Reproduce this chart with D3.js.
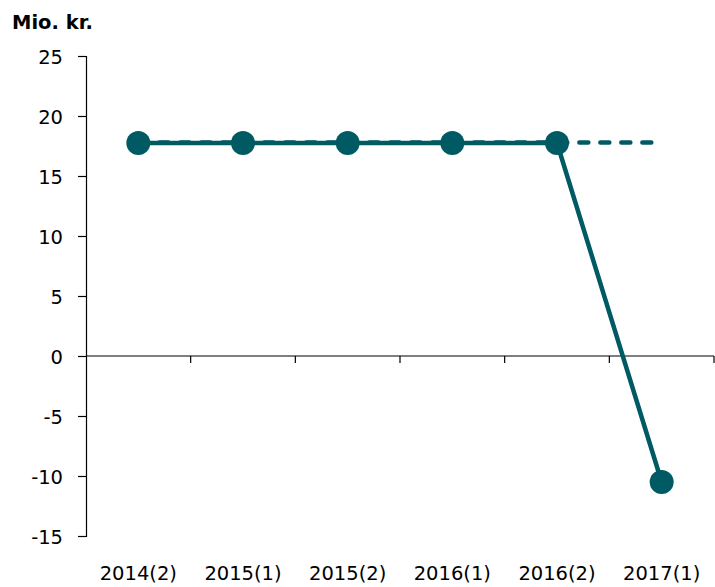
<!DOCTYPE html>
<html>
<head>
<meta charset="utf-8">
<script src="https://cdn.jsdelivr.net/npm/d3@7"></script>
<style>
  html, body { margin: 0; padding: 0; background: #fff; }
  svg { display: block; }
  text { font-family: "DejaVu Sans", Verdana, sans-serif; fill: #000; }
</style>
</head>
<body>
<svg id="chart" width="715" height="587"></svg>
<script>
// Periods on the x axis
const periods = ["2014(2)", "2015(1)", "2015(2)", "2016(1)", "2016(2)", "2017(1)"];
// Realised amounts (solid line with markers), Mio. kr.
const actual = [17.75, 17.75, 17.75, 17.75, 17.75, -10.5];
// Unchanged level (dashed line)
const baseline = [17.8, 17.8, 17.8, 17.8, 17.8, 17.8];
// Y axis ticks
const yTicks = [25, 20, 15, 10, 5, 0, -5, -10, -15];

const color = "#005a64";
const fontSize = "19.5px";
const svg = d3.select("#chart");

const x = d3.scaleBand().domain(periods).range([86, 714]);
const y = d3.scaleLinear().domain([-15, 25]).range([536, 56]);
const cx = d => x(d) + x.bandwidth() / 2;

// Y axis
const yAxis = svg.append("g")
  .attr("transform", "translate(86,0)")
  .call(d3.axisLeft(y).tickValues(yTicks).tickSize(8).tickPadding(15).tickFormat(d => String(d)));
yAxis.select(".domain").attr("stroke", "#000").attr("stroke-width", 1.2);
yAxis.selectAll(".tick line").attr("stroke", "#000").attr("stroke-width", 1.2);
yAxis.selectAll(".tick text").style("font-size", fontSize).attr("dy", "0.36em");

// X axis on the zero line, with tick marks at the band edges
const xg = svg.append("g").attr("transform", `translate(0,${y(0)})`);
xg.append("line").attr("x1", 86).attr("x2", 714)
  .attr("stroke", "#000").attr("stroke-width", 1.2);
const edges = periods.map(p => x(p)).concat([x.range()[1]]);
xg.selectAll("line.edge").data(edges.slice(1)).join("line")
  .attr("class", "edge")
  .attr("x1", d => d).attr("x2", d => d).attr("y1", 0).attr("y2", 7)
  .attr("stroke", "#000").attr("stroke-width", 1.2);

// Category labels below the plot
svg.append("g").selectAll("text").data(periods).join("text")
  .attr("x", d => cx(d)).attr("y", 580)
  .attr("text-anchor", "middle")
  .style("font-size", fontSize)
  .text(d => d);

// Unit label
svg.append("text").attr("x", 12).attr("y", 29)
  .style("font-size", fontSize).style("font-weight", "bold")
  .text("Mio. kr.");

const line = d3.line().x(d => cx(d.p)).y(d => y(d.v));

// Dashed level line
svg.append("path")
  .datum(periods.map((p, i) => ({ p, v: baseline[i] })))
  .attr("d", line)
  .attr("fill", "none").attr("stroke", color).attr("stroke-width", 4.5)
  .attr("stroke-linecap", "round")
  .attr("stroke-dasharray", "9,12");

// Solid line with markers
const pts = periods.map((p, i) => ({ p, v: actual[i] }));
svg.append("path")
  .datum(pts)
  .attr("d", line)
  .attr("fill", "none").attr("stroke", color).attr("stroke-width", 4.5)
  .attr("stroke-linejoin", "round");

svg.append("g").selectAll("circle").data(pts).join("circle")
  .attr("cx", d => cx(d.p)).attr("cy", d => y(d.v)).attr("r", 12)
  .attr("fill", color);
</script>
</body>
</html>
